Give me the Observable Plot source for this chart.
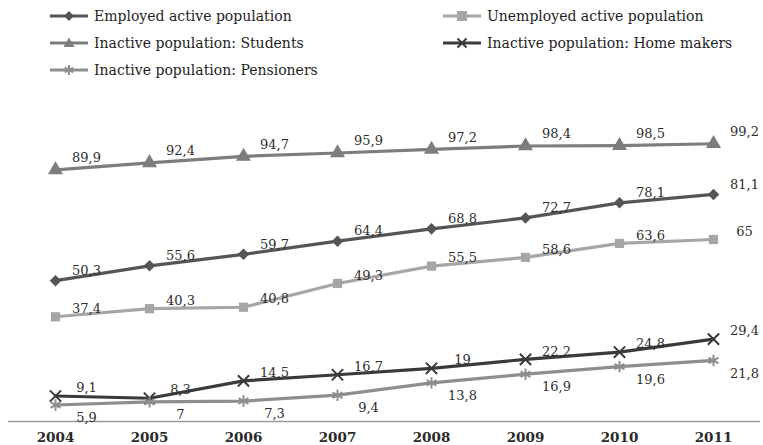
<!DOCTYPE html>
<html>
<head>
<meta charset="utf-8">
<script src="https://cdn.jsdelivr.net/npm/d3@7"></script>
<script src="https://cdn.jsdelivr.net/npm/@observablehq/plot@0.6"></script>
<style>
  html, body { margin: 0; padding: 0; background: #fff; }
  #wrap { position: relative; width: 763px; height: 445px; overflow: hidden; font-family: "DejaVu Serif", serif; }
  #legend { position: relative; width: 763px; height: 88px; }
  .item { position: absolute; display: flex; align-items: center; height: 20px; font-size: 14px; color: #1e1e1e; white-space: nowrap; }
  .item svg { margin-right: 6px; }
  #chart svg { overflow: visible; display: block; }
</style>
</head>
<body>
<div id="wrap">
  <div id="legend"></div>
  <div id="chart"></div>
</div>
<script>
// Years on the horizontal axis
const years = [2004, 2005, 2006, 2007, 2008, 2009, 2010, 2011];

// Series values (%)
const employed   = [50.3, 55.6, 59.7, 64.4, 68.8, 72.7, 78.1, 81.1];
const unemployed = [37.4, 40.3, 40.8, 49.3, 55.5, 58.6, 63.6, 65];
const students   = [89.9, 92.4, 94.7, 95.9, 97.2, 98.4, 98.5, 99.2];
const homeMakers = [9.1, 8.3, 14.5, 16.7, 19, 22.2, 24.8, 29.4];
const pensioners = [5.9, 7, 7.3, 9.4, 13.8, 16.9, 19.6, 21.8];

// Series names, in legend order
const seriesNames = [
  "Employed active population",
  "Unemployed active population",
  "Inactive population: Students",
  "Inactive population: Home makers",
  "Inactive population: Pensioners"
];
const seriesValues = [employed, unemployed, students, homeMakers, pensioners];

// Styling per series
const styles = {
  "Employed active population":       {color: "#555555", symbol: "diamond2", r: 5.2, labelDy: -10, legend: [50, 16]},
  "Unemployed active population":     {color: "#a6a6a6", symbol: "square",   r: 5.2, labelDy: -8,  legend: [443, 16]},
  "Inactive population: Students":    {color: "#7d7d7d", symbol: "triangle", r: 5.6, labelDy: -12, legend: [50, 43]},
  "Inactive population: Home makers": {color: "#3a3a3a", symbol: "times",    r: 5.2, labelDy: -8,  legend: [443, 43]},
  "Inactive population: Pensioners":  {color: "#8e8e8e", symbol: "asterisk", r: 5.4, labelDy: 13,  legend: [50, 70]}
};

const rows = seriesNames.flatMap((name, i) =>
  years.map((year, j) => ({series: name, year, value: seriesValues[i][j]}))
);

const fmt = v => String(v).replace(".", ",");

// Legend
const legend = document.getElementById("legend");
const symbolPaths = {
  "diamond2": "M0,-5L5,0L0,5L-5,0Z",
  "square": "M-5,-5H5V5H-5Z",
  "triangle": "M0,-5.5L5.5,4L-5.5,4Z",
  "times": "M-4.5,-4.5L4.5,4.5M-4.5,4.5L4.5,-4.5",
  "asterisk": "M0,-5V5M-4.3,-2.5L4.3,2.5M-4.3,2.5L4.3,-2.5"
};
for (const name of seriesNames) {
  const s = styles[name];
  const item = document.createElement("div");
  item.className = "item";
  item.style.left = s.legend[0] + "px";
  item.style.top = (s.legend[1] - 10) + "px";
  const stroked = s.symbol === "times" || s.symbol === "asterisk";
  item.innerHTML =
    `<svg width="38" height="14" viewBox="0 0 38 14">
       <line x1="0" x2="38" y1="7" y2="7" stroke="${s.color}" stroke-width="3"/>
       <path transform="translate(19,7)" d="${symbolPaths[s.symbol]}"
         fill="${stroked ? "none" : s.color}" stroke="${s.color}" stroke-width="${stroked ? 2 : 0}"/>
     </svg><span>${name}</span>`;
  legend.appendChild(item);
}

// Chart
const chart = Plot.plot({
  width: 763,
  height: 357,
  marginTop: 53,
  marginBottom: 24,
  marginLeft: 8,
  marginRight: 3,
  style: {fontFamily: "DejaVu Serif, serif", background: "transparent"},
  x: {type: "linear", domain: [2004, 2011], range: [55, 713], axis: null},
  y: {domain: [0, 100], axis: null},
  marks: [
    Plot.ruleY([0], {stroke: "#9a9a9a", strokeWidth: 1.5}),
    Plot.axisX({
      ticks: years, tickFormat: d => String(d), tickSize: 0, tickPadding: 11,
      label: null, fontSize: 13.5, fontWeight: "bold", fill: "#2a2a2a"
    }),
    ...seriesNames.map(name => {
      const s = styles[name];
      const data = rows.filter(d => d.series === name);
      const stroked = s.symbol === "times" || s.symbol === "asterisk";
      return [
        Plot.line(data, {x: "year", y: "value", stroke: s.color, strokeWidth: 3.2}),
        Plot.dot(data, {
          x: "year", y: "value", symbol: () => s.symbol, r: s.r,
          fill: stroked ? "none" : s.color, stroke: s.color, strokeWidth: stroked ? 2 : 0
        }),
        Plot.text(data, {
          x: "year", y: "value", text: d => fmt(d.value),
          dx: 31, dy: s.labelDy, fontSize: 13, fill: "#2e2e2e"
        })
      ];
    })
  ]
});
document.getElementById("chart").appendChild(chart);
</script>
</body>
</html>
